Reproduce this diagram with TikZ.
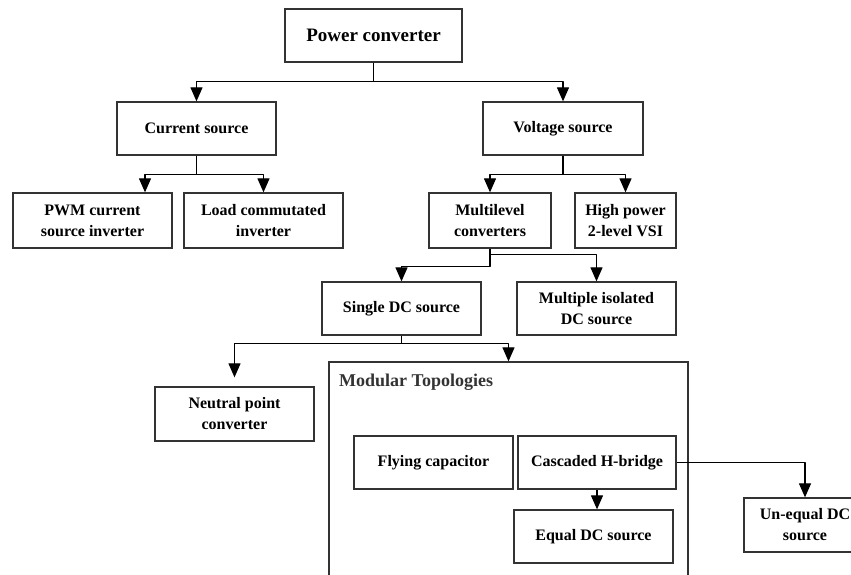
\documentclass[tikz,border=0pt]{standalone}
\usepackage{fontspec}
\setmainfont{Liberation Serif}
\usetikzlibrary{arrows.meta}
\tikzset{
	blk/.style={draw=black!80,line width=1.3pt,fill=white,align=center,inner sep=1pt,minimum width=159,minimum height=53,font=\bfseries\fontsize{16}{21}\selectfont},
	lnk/.style={line width=1.2pt,line join=round,-{Triangle[width=12pt,length=14pt]}}
}
\begin{document}
\begin{tikzpicture}[x=1pt,y=-1pt]
	\clip (0,0) rectangle (851,574);
	\fill[white] (0,0) rectangle (851,574);
	% tree of boxes
	\node[blk,minimum width=177,font=\bfseries\fontsize{19}{22}\selectfont] (pc) at (373.5,35.5) {Power converter};
	\node[blk] (cs) at (196.5,128.5) {Current source};
	\node[blk,minimum width=160] (vs) at (563,128.5) {Voltage source};
	\node[blk,minimum height=55] (pwm) at (92.5,220.5) {PWM current\\source inverter};
	\node[blk,minimum height=55] (lci) at (263.5,220.5) {Load commutated\\inverter};
	\node[blk,minimum width=122,minimum height=55] (multi) at (490,220.5) {Multilevel\\converters};
	\node[blk,minimum width=101,minimum height=55] (high) at (625.5,220.5) {High power\\2-level VSI};
	\node[blk] (single) at (401.5,308.5) {Single DC source};
	\node[blk] (multiple) at (596.5,308.5) {Multiple isolated\\DC source};
	\node[blk,minimum height=54] (neutral) at (234.5,414) {Neutral point\\converter};
	% modular group
	\node[draw=black!80,line width=1.3pt,minimum width=359,minimum height=238] (mod) at (508.5,481) {};
	\node[anchor=west,inner sep=0pt,text=black!80,font=\bfseries\fontsize{18}{20}\selectfont] (modlbl) at (339,382) {Modular Topologies};
	\node[blk] (fly) at (433.5,462.5) {Flying capacitor};
	\node[blk,minimum width=158] (chb) at (597,462.5) {Cascaded H-bridge};
	\node[blk] (equal) at (593.5,536.5) {Equal DC source};
	\node[blk,minimum width=122,minimum height=54] (uneq) at (805,525) {Un-equal DC\\source};
	% connectors
	\foreach \a/\b/\h in {pc/cs/19,pc/vs/19,cs/lci/19,vs/multi/19,vs/high/19,multi/multiple/6,multi/single/18,single/mod/8}
	\draw[lnk] (\a.south) -- ++(0,\h) -| (\b.north);
	\draw[lnk] (cs.south) -- ++(0,19) -| ([xshift=52.5pt]pwm.north);
	\draw[lnk] (single.south) -- ++(0,8) -| ([yshift=9pt]neutral.north);
	\draw[lnk] (chb.south) -- (chb.south |- equal.north);
	\draw[lnk] (chb.east) -| (uneq.north);
\end{tikzpicture}
\end{document}
